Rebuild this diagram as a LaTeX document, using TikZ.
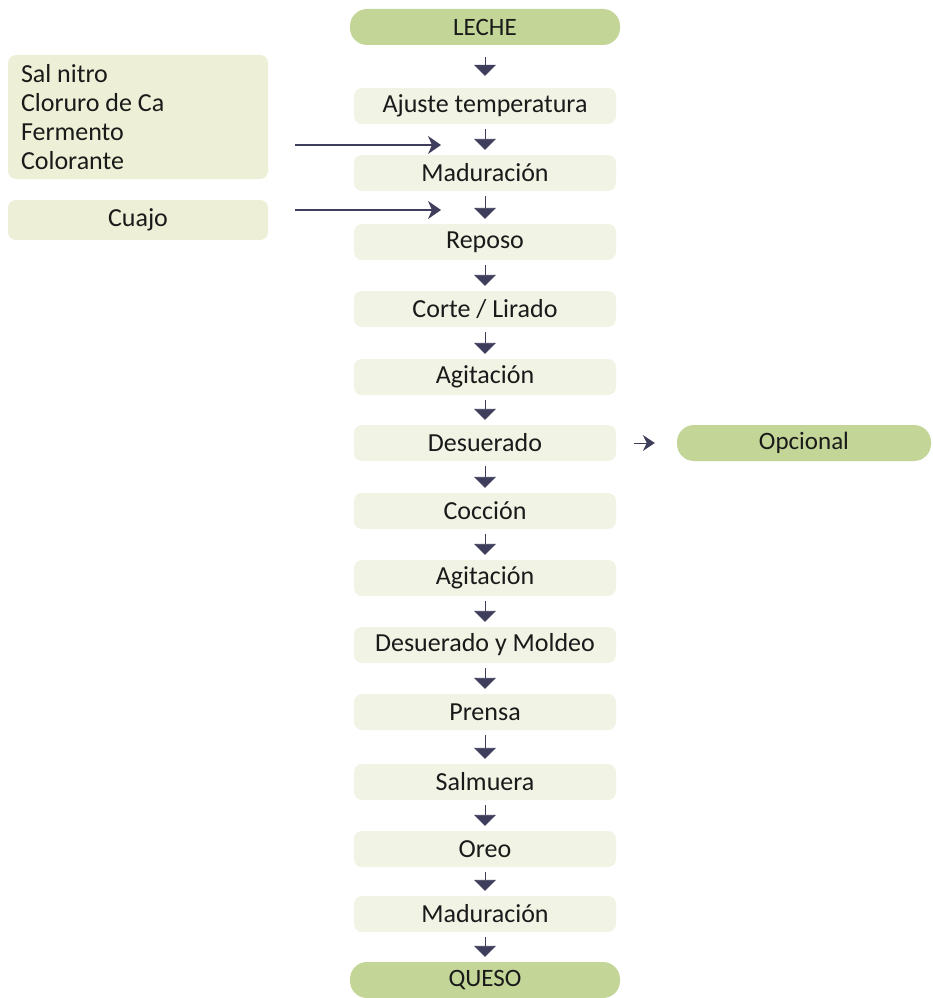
\documentclass[tikz,border=0pt]{standalone}
\usepackage{fontspec}
\setmainfont{Carlito}
\usetikzlibrary{arrows.meta,calc}
\definecolor{pale}{HTML}{F1F4E4}
\definecolor{palel}{HTML}{EDF0D6}
\definecolor{greenbox}{HTML}{C3D597}
\definecolor{arrc}{HTML}{3E3E5C}
\definecolor{txt}{HTML}{1A1A1A}
\tikzset{
  stepbox/.style={fill=pale, rounded corners=8pt, minimum width=262pt, minimum height=36pt, inner sep=0pt, text=txt, font=\fontsize{26}{30}\selectfont},
  endbox/.style={fill=greenbox, rounded corners=17pt, minimum width=270pt, minimum height=36pt, inner sep=0pt, text=txt, font=\fontsize{25}{28}\selectfont},
  sidebox/.style={fill=palel, rounded corners=8pt, minimum width=260pt, inner sep=0pt, text=txt, font=\fontsize{26}{29}\selectfont},
  darr/.style={draw=arrc, line width=0.9pt, -{Triangle[width=22pt,length=11pt]}},
  harr/.style={draw=arrc, line width=1.3pt, -{Stealth[width=18pt,length=13pt,inset=4pt]}},
}
\begin{document}
\begin{tikzpicture}[x=1pt,y=-1pt]
\useasboundingbox (0,0) rectangle (932,998);
\node[endbox] (leche) at (485,27) {LECHE};
\node[stepbox] (s1) at (485,106) {Ajuste temperatura};
\node[stepbox] (s2) at (485,173) {Maduración};
\node[stepbox] (s3) at (485,242) {Reposo};
\node[stepbox] (s4) at (485,309) {Corte / Lirado};
\node[stepbox] (s5) at (485,377) {Agitación};
\node[stepbox] (s6) at (485,443) {Desuerado};
\node[stepbox] (s7) at (485,511) {Cocción};
\node[stepbox] (s8) at (485,578) {Agitación};
\node[stepbox] (s9) at (485,645) {Desuerado y Moldeo};
\node[stepbox] (s10) at (485,712) {Prensa};
\node[stepbox] (s11) at (485,782) {Salmuera};
\node[stepbox] (s12) at (485,849) {Oreo};
\node[stepbox] (s13) at (485,914) {Maduración};
\node[endbox] (queso) at (485,980) {QUESO};
\node[endbox, minimum width=254pt] (opc) at (804,443) {Opcional};
\node[sidebox, minimum height=124pt, align=flush left, text width=234pt] (add) at (138,117) {Sal nitro\\Cloruro de Ca\\Fermento\\Colorante};
\node[sidebox, minimum height=40pt] (cuajo) at (138,220) {Cuajo};
\draw[darr, shorten <=12pt, shorten >=12pt] (leche) -- (s1);
\foreach \a/\b in {s1/s2,s2/s3,s3/s4,s4/s5,s5/s6,s6/s7,s7/s8,s8/s9,s9/s10,s10/s11,s11/s12,s12/s13,s13/queso}
  \draw[darr, shorten <=5pt, shorten >=5pt] (\a) -- (\b);
\coordinate (a1s) at (295,145);
\coordinate (a1e) at (441,145);
\coordinate (a2s) at (295,210);
\coordinate (a2e) at (441,210);
\draw[harr] (a1s) -- (a1e);
\draw[harr] (a2s) -- (a2e);
\draw[harr, line width=1pt, -{Stealth[width=16pt,length=12pt,inset=4pt]}, shorten <=18pt, shorten >=22pt] (s6) -- (opc);
\end{tikzpicture}
\end{document}
